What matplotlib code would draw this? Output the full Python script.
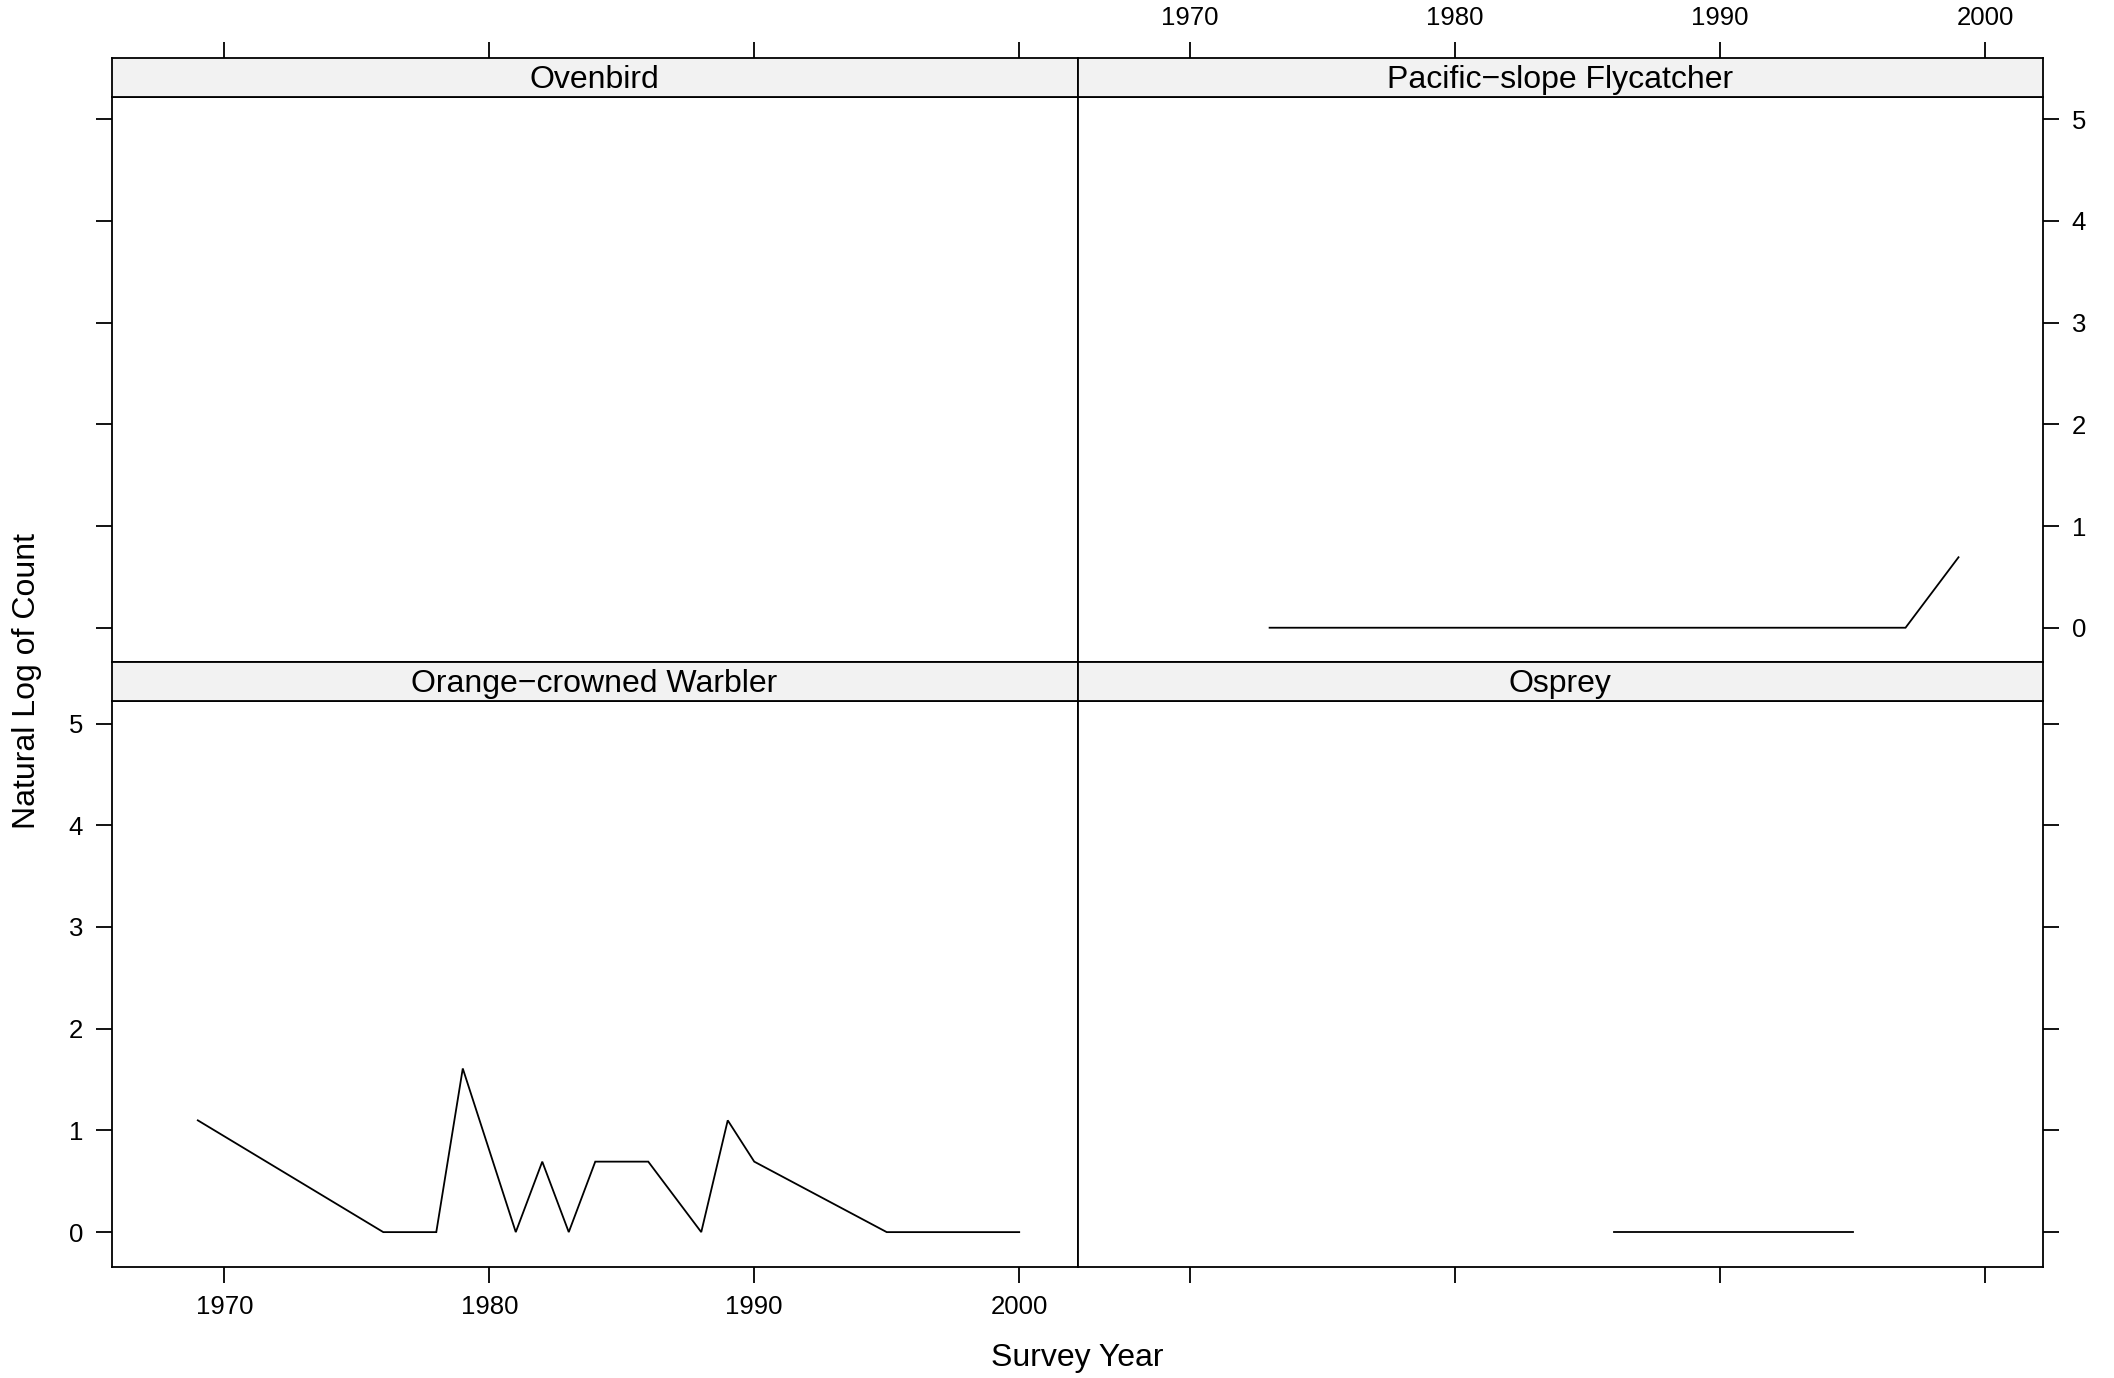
import numpy as np
from matplotlib import pyplot as plt

plt.rcParams['font.family'] = ['Liberation Sans', 'DejaVu Sans']

# panel order: top-left, top-right, bottom-left, bottom-right
species = ["Ovenbird", "Pacific\u2212slope Flycatcher", "Orange\u2212crowned Warbler", "Osprey"]

ovenbird_years = []
ovenbird_logcount = []

flycatcher_years = [1973, 1997, 1999]
flycatcher_logcount = [0.0, 0.0, 0.693]

warbler_years = [1969, 1976, 1978, 1979, 1981, 1982, 1983, 1984, 1986, 1988, 1989, 1990, 1995, 2000]
warbler_logcount = [1.099, 0.0, 0.0, 1.609, 0.0, 0.693, 0.0, 0.693, 0.693, 0.0, 1.099, 0.693, 0.0, 0.0]

osprey_years = [1986, 1995]
osprey_logcount = [0.0, 0.0]

x_ticks = [1970, 1980, 1990, 2000]
y_ticks = [0, 1, 2, 3, 4, 5]


def main():
    W, H = 2114, 1378
    fig = plt.figure(figsize=(W / 100, H / 100), dpi=100)

    xlim = (1965.75, 2002.2)
    ylim = (-0.34, 5.222)
    lw = 1.3
    tick_fs = 18.5
    lab_fs = 23

    cols = [(111.7, 1077.5), (1077.5, 2043.3)]
    rows = [(58.3, 96.7, 662.3), (662.3, 701.0, 1266.7)]  # strip top, strip bottom/panel top, panel bottom

    data = [
        (ovenbird_years, ovenbird_logcount),
        (flycatcher_years, flycatcher_logcount),
        (warbler_years, warbler_logcount),
        (osprey_years, osprey_logcount),
    ]

    for i in range(4):
        r, c = divmod(i, 2)
        x0, x1 = cols[c]
        s0, p0, p1 = rows[r]

        ax = fig.add_axes([x0 / W, 1 - p1 / H, (x1 - x0) / W, (p1 - p0) / H])
        sx = fig.add_axes([x0 / W, 1 - p0 / H, (x1 - x0) / W, (p0 - s0) / H])

        yrs, vals = data[i]
        if len(yrs):
            ax.plot(yrs, vals, color='black', lw=lw, solid_joinstyle='miter')
        ax.set_xlim(*xlim)
        ax.set_ylim(*ylim)
        sx.set_xlim(*xlim)
        sx.set_ylim(0, 1)

        for a in (ax, sx):
            for sp in a.spines.values():
                sp.set_linewidth(lw)
            a.tick_params(direction='out', length=11.5, width=lw, labelsize=tick_fs, pad=9)

        sx.set_facecolor('#f2f2f2')
        sx.text(0.5, 0.43, species[i], transform=sx.transAxes, ha='center', va='center', fontsize=lab_fs)
        sx.set_yticks([])

        # x ticks: bottom on bottom row, top on top row
        ax.set_xticks(x_ticks)
        sx.set_xticks(x_ticks)
        if r == 0:
            ax.tick_params(axis='x', bottom=False, labelbottom=False)
            sx.tick_params(axis='x', bottom=False, labelbottom=False, top=True, labeltop=(c == 1))
        else:
            ax.tick_params(axis='x', bottom=True, labelbottom=(c == 0))
            sx.tick_params(axis='x', bottom=False, labelbottom=False, top=False, labeltop=False)

        ax.set_yticks(y_ticks)
        if c == 0:
            ax.tick_params(axis='y', left=True, labelleft=(r == 1), right=False)
        else:
            ax.tick_params(axis='y', left=False, labelleft=False, right=True, labelright=(r == 0))

    fig.text(1077.5 / W, 1 - 1358 / H, "Survey Year", ha='center', va='center', fontsize=lab_fs)
    fig.text(27 / W, 1 - 681 / H, "Natural Log of Count", ha='center', va='center',
             rotation=90, fontsize=lab_fs)

    plt.savefig("out.png", dpi=100)


if __name__ == "__main__":
    main()
